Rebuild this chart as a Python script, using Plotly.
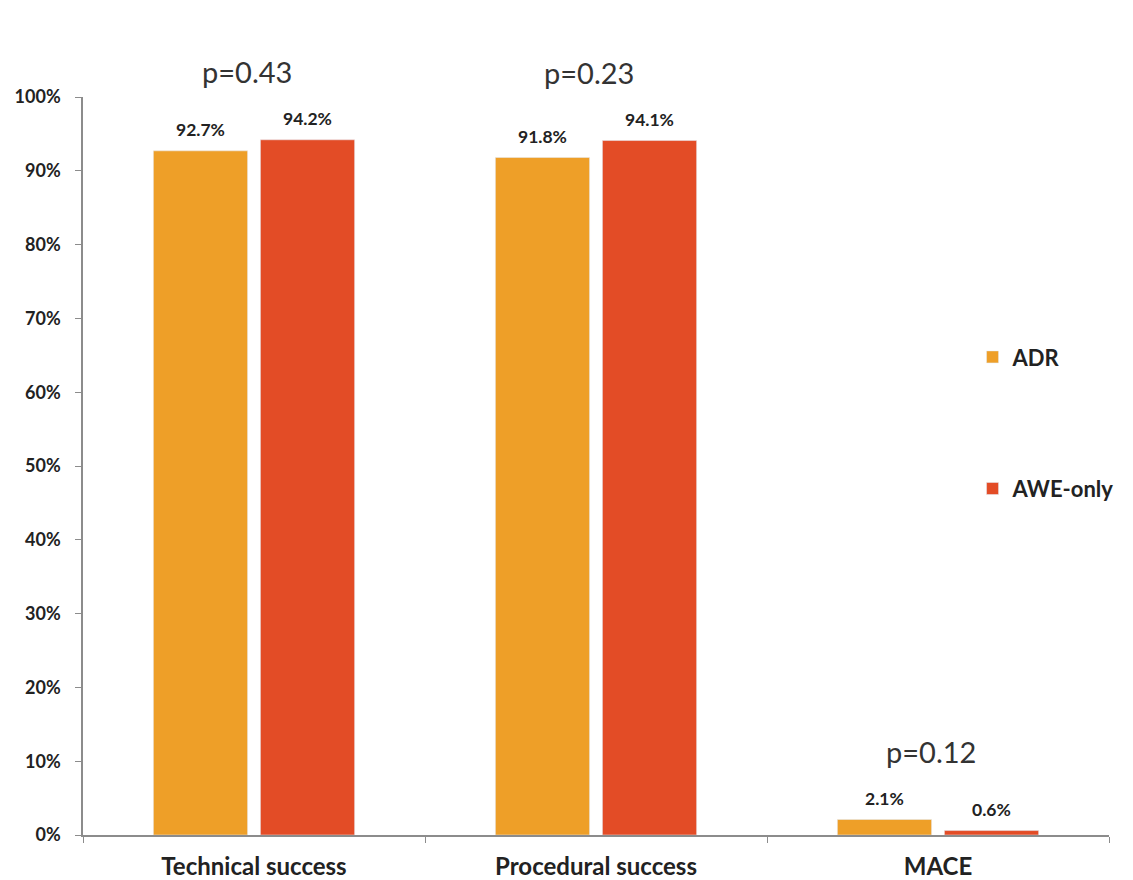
import plotly.graph_objects as go

categories = ["Technical success", "Procedural success", "MACE"]
adr_values = [92.7, 91.8, 2.1]
awe_values = [94.2, 94.1, 0.6]
p_values = ["p=0.43", "p=0.23", "p=0.12"]
series_names = ["ADR", "AWE-only"]
y_ticks = [0, 10, 20, 30, 40, 50, 60, 70, 80, 90, 100]

ADR_COLOR = "#EE9F28"
AWE_COLOR = "#E34C26"
FONT = "Lato, 'Open Sans', sans-serif"
TEXT = "#222222"

fig = go.Figure()
fig.add_trace(go.Bar(x=categories, y=adr_values, name=series_names[0],
                     marker_color=ADR_COLOR, legendgroup="a"))
fig.add_trace(go.Bar(x=categories, y=awe_values, name=series_names[1],
                     marker_color=AWE_COLOR, legendgroup="b"))

annotations = []
# value labels above each bar
for cat, a, b in zip(categories, adr_values, awe_values):
    for val, shift in ((a, -53.5), (b, 53.5)):
        annotations.append(dict(
            x=cat, y=val, xref="x", yref="y", text=f"{val}%",
            showarrow=False, xshift=shift, yshift=9, yanchor="bottom",
            font=dict(family=FONT, size=17.5, color=TEXT, weight="bold")))
# p-value written above each pair of bars
for cat, a, b, p in zip(categories, adr_values, awe_values, p_values):
    annotations.append(dict(
        x=cat, y=max(a, b), xref="x", yref="y", text=p,
        showarrow=False, yanchor="middle", yshift=68, xshift=-7,
        font=dict(family=FONT, size=29, color="#333333")))

fig.update_layout(
    width=1133, height=880,
    margin=dict(l=83, r=24, t=97, b=45),
    paper_bgcolor="white", plot_bgcolor="white",
    barmode="group", bargap=0.374, bargroupgap=0.12,
    font=dict(family=FONT, color=TEXT),
    annotations=annotations,
    legend=dict(x=0.867, xanchor="left", y=0.676, yanchor="top",
                tracegroupgap=100, bgcolor="rgba(0,0,0,0)",
                font=dict(family=FONT, size=22, color=TEXT, weight="bold")),
    xaxis=dict(showline=True, linecolor="#8c8c8c", linewidth=1.5,
               ticks="outside", tickson="boundaries", ticklen=6,
               tickcolor="#8c8c8c", showgrid=False, automargin=False,
               tickfont=dict(family=FONT, size=24, color=TEXT, weight="bold"),
               ticklabelstandoff=9),
    yaxis=dict(range=[0, 100], tickvals=y_ticks,
               ticktext=[f"{t}%" for t in y_ticks],
               showline=True, linecolor="#8c8c8c", linewidth=1.5,
               ticks="outside", ticklen=6, tickcolor="#8c8c8c",
               showgrid=False, zeroline=False, automargin=False,
               tickfont=dict(family=FONT, size=18, color=TEXT, weight="bold"),
               ticklabelstandoff=11),
)

fig.write_html("out.html")
